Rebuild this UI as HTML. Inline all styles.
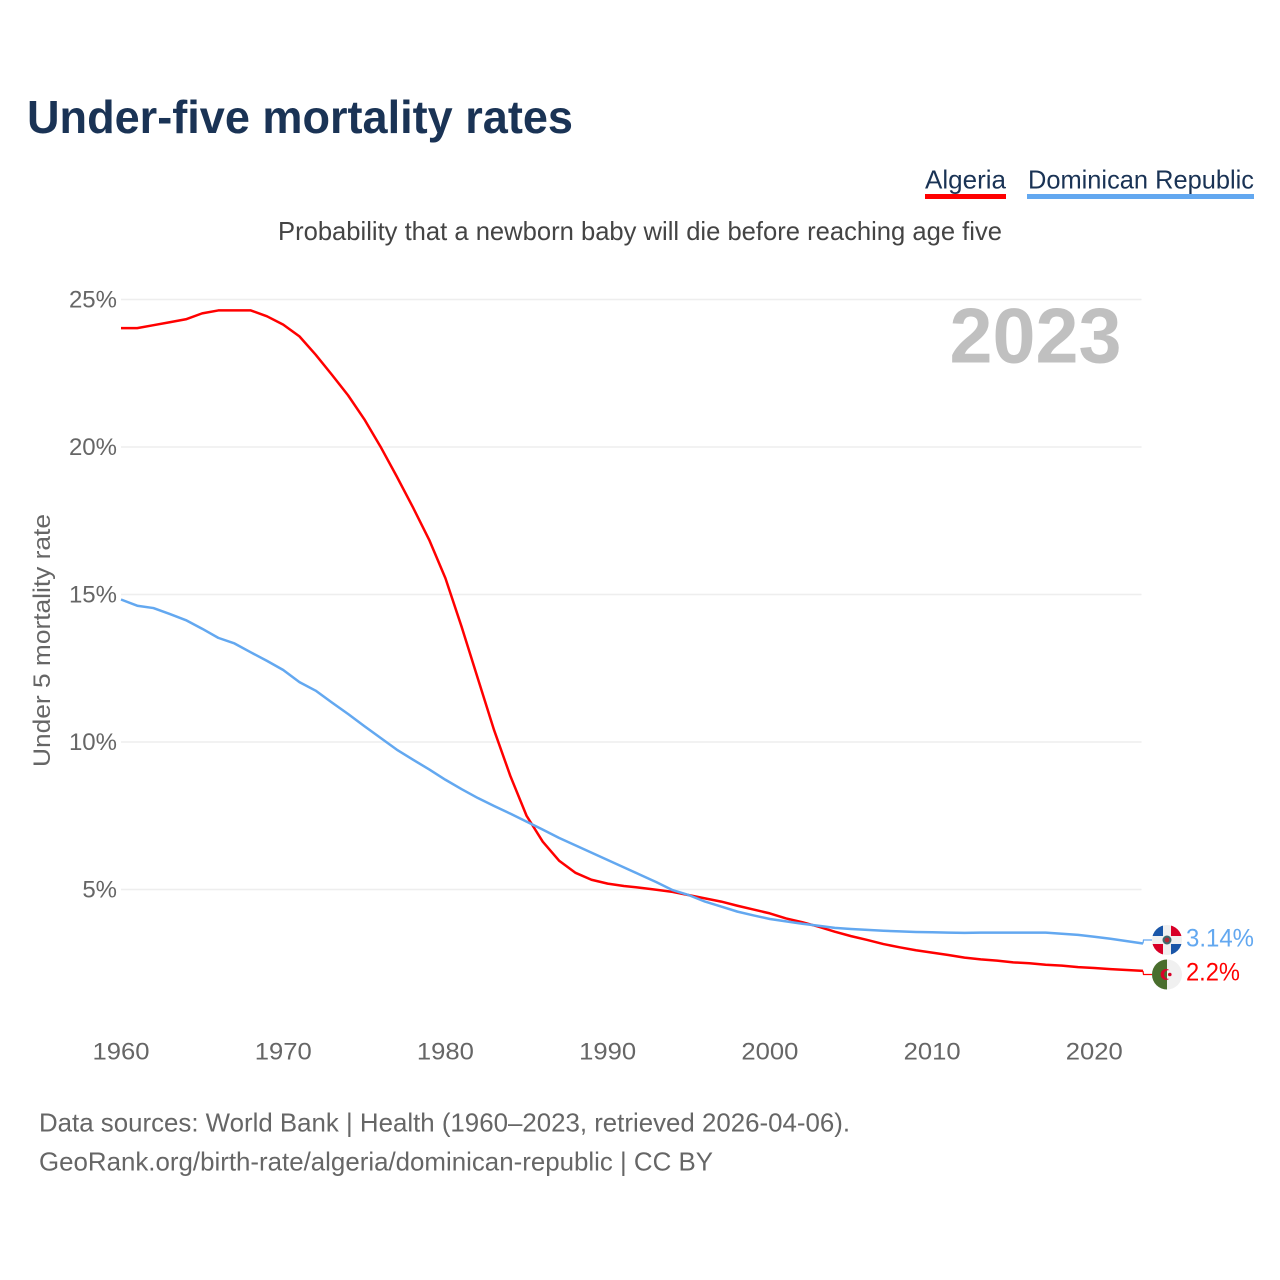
<!DOCTYPE html>
<html lang="en">
<head>
<meta charset="utf-8">
<title>Under-five mortality rates</title>
<style>
html,body{margin:0;padding:0;background:#fff;width:1280px;height:1280px;overflow:hidden}
svg{display:block}
text{font-family:"Liberation Sans",sans-serif}
</style>
</head>
<body>
<svg id="chart" xmlns="http://www.w3.org/2000/svg" width="1280" height="1280" viewBox="0 0 1280 1280">
  <defs>
    <clipPath id="flag-clip-do"><circle cx="1167" cy="940" r="15"/></clipPath>
    <clipPath id="flag-clip-dz"><circle cx="1167" cy="974.5" r="15"/></clipPath>
  </defs>
  <text x="27" y="133" font-size="46" font-weight="700" fill="#1a3355" textLength="546" lengthAdjust="spacingAndGlyphs">Under-five mortality rates</text>

  <g>
    <text x="925" y="188.5" font-size="26" fill="#1a3355" textLength="81" lengthAdjust="spacingAndGlyphs">Algeria</text>
    <rect x="925" y="194" width="81" height="5" fill="#ff0000"/>
  </g>
  <g>
    <text x="1028" y="188.5" font-size="26" fill="#1a3355" textLength="226" lengthAdjust="spacingAndGlyphs">Dominican Republic</text>
    <rect x="1027" y="194" width="227" height="5" fill="#63a8f0"/>
  </g>

  <text x="278" y="240" font-size="26" fill="#444444" textLength="724" lengthAdjust="spacingAndGlyphs">Probability that a newborn baby will die before reaching age five</text>

  <g id="grid"></g>
  <g id="y-ticks"></g>
  <g id="x-ticks"></g>

  <text x="949.5" y="362.5" font-size="78" font-weight="700" fill="#c0c0c0" textLength="172" lengthAdjust="spacingAndGlyphs">2023</text>

  <text transform="translate(50 767) rotate(-90)" x="0" y="0" font-size="24" fill="#666666" textLength="253" lengthAdjust="spacingAndGlyphs">Under 5 mortality rate</text>

  <g id="series"></g>

  <g clip-path="url(#flag-clip-do)">
    <rect x="1152" y="925" width="30" height="30" fill="#f0f0f0"/>
    <rect x="1152" y="925" width="11" height="11" fill="#1a56a8"/>
    <rect x="1171" y="925" width="11" height="11" fill="#d80027"/>
    <rect x="1152" y="944" width="11" height="11" fill="#d80027"/>
    <rect x="1171" y="944" width="11" height="11" fill="#1a56a8"/>
    <circle cx="1167" cy="940" r="4.5" fill="#3f6a6d"/>
    <circle cx="1167" cy="940" r="2.4" fill="#b02a37"/>
  </g>
  <g clip-path="url(#flag-clip-dz)">
    <rect x="1152" y="959" width="30" height="31" fill="#f0f0f0"/>
    <rect x="1152" y="959" width="15" height="31" fill="#496e2d"/>
    <path d="M1169.5 970.2A5.5 5.5 0 1 0 1169.5 978.8A4.4 4.4 0 1 1 1169.5 970.2Z" fill="#d80027"/>
    <circle cx="1169.8" cy="974.5" r="1.8" fill="#d80027"/>
  </g>

  <text x="1186" y="946.5" font-size="25" fill="#63a8f0" textLength="68" lengthAdjust="spacingAndGlyphs">3.14%</text>
  <text x="1186" y="980.5" font-size="25" fill="#ff0000" textLength="54" lengthAdjust="spacingAndGlyphs">2.2%</text>

  <text x="39" y="1131.5" font-size="26" fill="#666666" textLength="811" lengthAdjust="spacingAndGlyphs">Data sources: World Bank | Health (1960–2023, retrieved 2026-04-06).</text>
  <text x="39" y="1170.5" font-size="26" fill="#666666" textLength="674" lengthAdjust="spacingAndGlyphs">GeoRank.org/birth-rate/algeria/dominican-republic | CC BY</text>
</svg>
<script>
const startYear = 1960;
const algeria = [24.03,24.03,24.13,24.23,24.33,24.53,24.63,24.63,24.63,24.43,24.15,23.75,23.13,22.45,21.75,20.94,20.01,19.0,17.95,16.85,15.55,13.9,12.15,10.4,8.85,7.5,6.62,5.98,5.57,5.33,5.2,5.12,5.06,4.99,4.92,4.81,4.7,4.59,4.45,4.32,4.19,4.02,3.89,3.74,3.57,3.42,3.29,3.15,3.04,2.94,2.86,2.78,2.69,2.63,2.59,2.53,2.5,2.45,2.42,2.37,2.34,2.3,2.27,2.24];
const dominicanRepublic = [14.83,14.62,14.54,14.34,14.13,13.84,13.53,13.34,13.04,12.75,12.44,12.03,11.74,11.34,10.95,10.54,10.14,9.74,9.4,9.07,8.72,8.4,8.1,7.83,7.57,7.3,7.03,6.75,6.5,6.25,6.0,5.75,5.5,5.25,4.98,4.81,4.59,4.42,4.25,4.12,4.0,3.92,3.84,3.77,3.7,3.66,3.63,3.6,3.58,3.56,3.55,3.54,3.53,3.54,3.54,3.54,3.54,3.54,3.5,3.46,3.4,3.33,3.25,3.17];
const yTickValues = [5,10,15,20,25];
const yTickLabels = ["5%","10%","15%","20%","25%"];
const xTickValues = [1960,1970,1980,1990,2000,2010,2020];
const xTickLabels = ["1960","1970","1980","1990","2000","2010","2020"];

const SVG_NS = "http://www.w3.org/2000/svg";
function xScale(year){ return 121 + (year - 1960) * 16.222; }
function yScale(v){ return 889.5 - (v - 5) * 29.5; }
function make(tag, attrs, parent){
  const el = document.createElementNS(SVG_NS, tag);
  for (const k in attrs) el.setAttribute(k, attrs[k]);
  parent.appendChild(el);
  return el;
}

const grid = document.getElementById("grid");
const yTicks = document.getElementById("y-ticks");
yTickValues.forEach(function(v, i){
  const line = make("line", {x1:121, x2:1141.5, y1:yScale(v), y2:yScale(v), stroke:"#eeeeee", "stroke-width":1.5}, grid);
  
  
  const t = make("text", {x:117, y:yScale(v)+8, "text-anchor":"end", "font-size":24, fill:"#666666"}, yTicks);
  
  
  t.textContent = yTickLabels[i];
});

const xTicks = document.getElementById("x-ticks");
xTickValues.forEach(function(v, i){
  const t = make("text", {x:xScale(v), y:1059.5, "text-anchor":"middle", "font-size":24, fill:"#666666", textLength:57, lengthAdjust:"spacingAndGlyphs"}, xTicks);
  
  
  t.textContent = xTickLabels[i];
});

const series = document.getElementById("series");
function pointsFor(values){
  return values.map(function(v, i){ return xScale(startYear + i).toFixed(2) + "," + yScale(v).toFixed(2); }).join(" ");
}
function connector(values, labelY){
  const x = xScale(startYear + values.length - 1);
  return x.toFixed(2) + "," + yScale(values[values.length - 1]).toFixed(2) + " " +
         (x + 0.5).toFixed(2) + "," + labelY + " " + (x + 9).toFixed(2) + "," + labelY;
}

const algeriaLine = make("polyline", {points:pointsFor(algeria), fill:"none", stroke:"#ff0000", "stroke-width":2.5, "stroke-linejoin":"round"}, series);


const drLine = make("polyline", {points:pointsFor(dominicanRepublic), fill:"none", stroke:"#63a8f0", "stroke-width":2.5, "stroke-linejoin":"round"}, series);



const algeriaTail = make("polyline", {points:connector(algeria, 974.5), fill:"none", stroke:"#ff0000", "stroke-width":1.2}, series);


const drTail = make("polyline", {points:connector(dominicanRepublic, 940), fill:"none", stroke:"#63a8f0", "stroke-width":1.2}, series);


</script>
</body>
</html>
